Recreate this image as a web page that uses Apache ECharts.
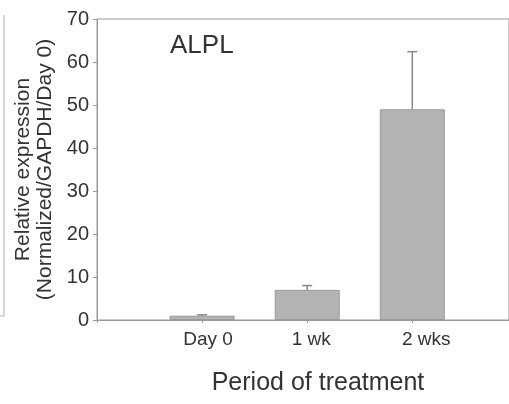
<!DOCTYPE html>
<html>
<head>
<meta charset="utf-8">
<script src="https://cdn.jsdelivr.net/npm/echarts@6/dist/echarts.min.js"></script>
<style>
  html, body { margin: 0; padding: 0; background: #fff; }
  #chart { width: 509px; height: 404px; }
</style>
</head>
<body>
<div id="chart"></div>
<script>
// 데이터
const categories = ['Day 0', '1 wk', '2 wks'];
const positions = [1, 2, 3];
const means = [1.0, 7.0, 49.0];
const errors = [0.2, 1.0, 13.4];
const yTicks = [0, 10, 20, 30, 40, 50, 60, 70];

// 원본처럼 라벨을 막대 중심보다 약간 오른쪽으로
const labelShift = { 'Day 0': 'a', '1 wk': 'b', '2 wks': 'c' };

const chart = echarts.init(document.getElementById('chart'));

const barData = positions.map((p, i) => [p, means[i]]);
const errData = positions.map((p, i) => [p, means[i], means[i] + errors[i]]);

const labelFont = { fontFamily: 'Liberation Sans', fontSize: 19, color: '#333' };

const option = {
    animation: false,
    title: {
        text: 'ALPL',
        left: 165,
        top: 28,
        textStyle: { fontFamily: 'Liberation Sans', fontSize: 26, fontWeight: 'normal', color: '#333' }
    },
    grid: {
        left: 97, right: -2, top: 19, bottom: 84,
        show: true, borderColor: '#999', borderWidth: 1
    },
    xAxis: {
        type: 'value',
        min: 0,
        max: 3.92,
        interval: 1,
        name: 'Period of treatment',
        nameLocation: 'middle',
        nameGap: 51,
        nameTextStyle: { fontFamily: 'Liberation Sans', fontSize: 25, color: '#333', padding: [0, 0, 0, 30] },
        splitLine: { show: false },
        axisLine: { lineStyle: { color: '#999' } },
        axisTick: { show: true, length: 3, lineStyle: { color: '#999' } },
        axisLabel: {
            margin: 10,
            ...labelFont,
            showMaxLabel: false,
            formatter: v => {
                const c = categories[v - 1];
                return c ? '{' + labelShift[c] + '|' + c + '}' : '';
            },
            rich: {
                a: { ...labelFont, padding: [0, 0, 0, 12] },
                b: { ...labelFont, padding: [0, 0, 0, 8] },
                c: { ...labelFont, padding: [0, 0, 0, 28] }
            }
        }
    },
    yAxis: {
        type: 'value',
        min: 0, max: 70, interval: 10,
        name: 'Relative expression\n(Normalized/GAPDH/Day 0)',
        nameLocation: 'middle',
        nameGap: 41,
        nameTextStyle: { fontFamily: 'Liberation Sans', fontSize: 21, color: '#333', lineHeight: 22 },
        splitLine: { show: false },
        axisLine: { show: true, lineStyle: { color: '#999' } },
        axisTick: { show: true, length: 4, lineStyle: { color: '#999' } },
        axisLabel: {
            margin: 8,
            fontFamily: 'Liberation Sans', fontSize: 20, color: '#333',
            formatter: v => yTicks.includes(v) ? String(v) : ''
        }
    },
    series: [
        {
            type: 'bar',
            data: barData,
            barWidth: 65,
            itemStyle: { color: '#b3b3b3', borderColor: '#9a9a9a', borderWidth: 1 }
        },
        {
            type: 'custom',
            data: errData,
            z: 5,
            renderItem: function (params, api) {
                const base = api.coord([api.value(0), api.value(1)]);
                const top = api.coord([api.value(0), api.value(2)]);
                const cap = 5;
                return {
                    type: 'group',
                    children: [
                        { type: 'line', shape: { x1: base[0], y1: base[1], x2: top[0], y2: top[1] },
                          style: { stroke: '#888', lineWidth: 1.5 } },
                        { type: 'line', shape: { x1: top[0] - cap, y1: top[1], x2: top[0] + cap, y2: top[1] },
                          style: { stroke: '#888', lineWidth: 1.5 } }
                    ]
                };
            }
        }
    ],
    graphic: [
        {
            type: 'polyline',
            shape: { points: [[4, 15], [4, 316], [0, 316]] },
            style: { stroke: '#aaa', lineWidth: 1, fill: null }
        }
    ]
};

chart.setOption(option);
</script>
</body>
</html>
